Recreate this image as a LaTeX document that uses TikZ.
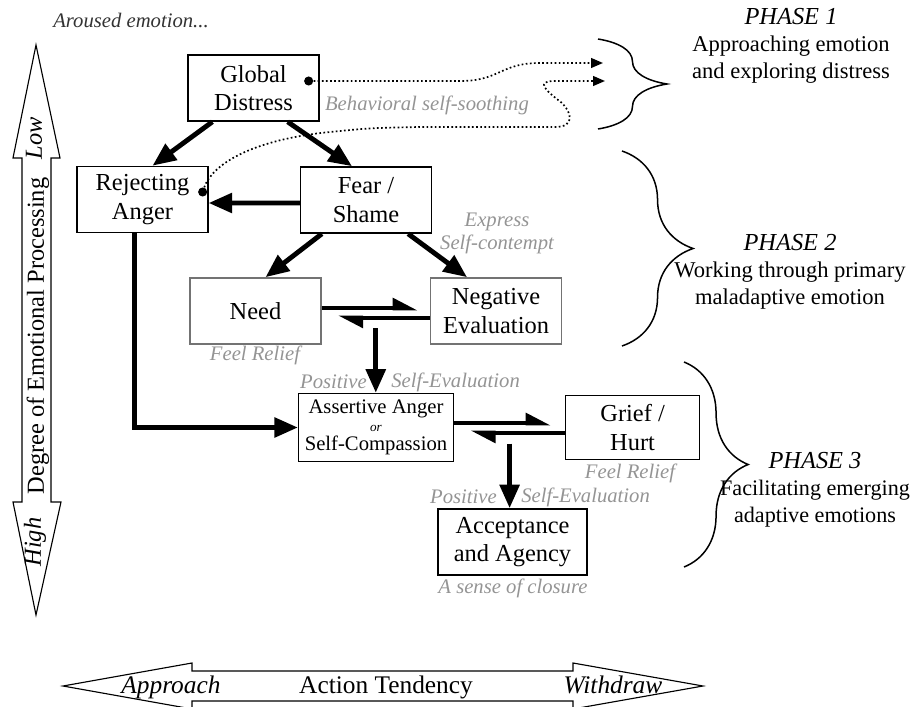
\documentclass[tikz,border=0pt]{standalone}
\usepackage{fontspec}
\setmainfont{Liberation Serif}
\usetikzlibrary{arrows.meta,calc,positioning,decorations.pathreplacing}
\definecolor{notec}{gray}{0.58}
\definecolor{edgec}{gray}{0.45}

\begin{document}
\begin{tikzpicture}[x=0.0187cm, y=-0.0187cm, node distance=45mm,
  box/.style={rectangle, draw, line width=0.7pt, minimum width=2.45cm, minimum height=1.24cm, align=center, font=\fontsize{13}{15}\selectfont},
  flow/.style={line width=2.6pt, -{Triangle[length=0.44cm, width=0.36cm]}},
  harp/.style={line width=2.6pt, -{Triangle[harpoon, length=0.38cm, width=0.36cm]}},
  soothe/.style={line width=0.9pt, dash pattern=on 0.9pt off 1.3pt, -{Triangle[length=0.22cm, width=0.18cm]}},
  dot/.style={circle, fill, inner sep=0pt, minimum size=0.17cm},
  note/.style={text=notec, font=\fontsize{11}{13}\selectfont\itshape, inner sep=1pt},
  phase/.style={align=center, font=\fontsize{12}{14.3}\selectfont},
  axis/.style={draw, line width=0.6pt, fill=white},
  phasebrace/.style={decorate, line width=0.8pt, decoration={brace, amplitude=#1}}]

    \useasboundingbox (0,0) rectangle (913,707);

    % axes
    \draw[axis] (36,45) -- (60,158) -- (51,158) -- (51,502) -- (61,502) -- (36,615) -- (13,502) -- (22,502) -- (22,158) -- (13,158) -- cycle;
    \draw[axis] (63,686) -- (192,663) -- (192,671) -- (573,671) -- (573,663) -- (703,686) -- (573,709) -- (573,701) -- (192,701) -- (192,709) -- cycle;
    \node[rotate=90, font=\fontsize{13}{15}\selectfont\itshape] (low) at (34,138) {Low};
    \node[rotate=90, font=\fontsize{13}{15}\selectfont] (degree) at (38,336) {Degree of Emotional Processing};
    \node[rotate=90, font=\fontsize{13}{15}\selectfont\itshape] (high) at (35,542) {High};
    \node[anchor=base, font=\fontsize{13.5}{15}\selectfont\itshape] (approach) at (171,693) {Approach};
    \node[anchor=base, font=\fontsize{13.5}{15}\selectfont] (tendency) at (386,693) {Action Tendency};
    \node[anchor=base, font=\fontsize{13.5}{15}\selectfont\itshape] (withdraw) at (613,693) {Withdraw};
    \node[font=\fontsize{11}{13}\selectfont\itshape, text=black!80] (aroused) at (131,20) {Aroused emotion...};

    % boxes
    \node[box] (global) at (253.5,88) {Global\\Distress};
    \node[box] (reject) at (142.5,199.5) {Rejecting\\Anger};
    \node[box] (fear) at (366,200) {Fear /\\Shame};
    \node[box, draw=edgec] (need) at (255.5,311) {Need};
    \node[box, draw=edgec, right of=need] (neg) {Negative\\Evaluation};
    \node[box, minimum width=2.8cm, font=\fontsize{11}{11.5}\selectfont] (assert) at (376,427.5) {Assertive Anger\\[-2pt]{\fontsize{7}{8}\selectfont\itshape or}\\[-1pt]Self-Compassion};
    \node[box, minimum width=2.5cm, minimum height=1.2cm, right of=assert, node distance=48mm] (grief) {Grief /\\Hurt};
    \node[box, minimum width=2.79cm] (accept) at (512.5,542) {Acceptance\\and Agency};

    \node[dot] (gdot) at ($(global.east)+(-11,-7)$) {};
    \node[dot] (rdot) at ($(reject.east)+(-6,-7.5)$) {};
    \coordinate (ph1a) at (603,63);
    \coordinate (ph1b) at (605,81);
    \coordinate (pair1) at ($(need.east)!0.5!(neg.west)$);
    \coordinate (pair2) at ($(assert.east)!0.5!(grief.west)$);

    % notes
    \node[note] (behave) at (427,105) {Behavioral self-soothing};
    \node[note, align=center, font=\fontsize{11}{12.3}\selectfont\itshape] (express) at (497,233) {Express\\Self-contempt};
    \node[note] (relief1) at (255,355) {Feel Relief};
    \node[note, anchor=east] (pos1a) at (369,382) {Positive};
    \node[note, anchor=west] (pos1b) at (389,382) {Self-Evaluation};
    \node[note] (relief2) at (630,473) {Feel Relief};
    \node[note, anchor=east] (pos2a) at (499,497) {Positive};
    \node[note, anchor=west] (pos2b) at (519,497) {Self-Evaluation};
    \node[note] (closure) at (513,588) {A sense of closure};

    % arrows
    \draw[flow] ($(global.south west)+(25,0)$) -- ($(reject.north)+(10,0)$);
    \draw[flow] ($(global.south east)+(-32,0)$) -- ($(fear.north)+(-14,0)$);
    \draw[flow] ($(fear.west)+(0,3)$) -- ($(reject.east)+(0,3.5)$);
    \draw[flow] ($(fear.south west)+(22,0)$) -- ($(need.north)+(10,0)$);
    \draw[flow] ($(fear.south east)+(-24,0)$) -- ($(neg.north)+(-29,0)$);
    \draw[harp, shorten >=0.22cm] ($(need.east)+(0,-3)$) -- ($(neg.west)+(0,-3)$);
    \draw[harp, shorten >=0.3cm] ($(neg.west)+(0,7)$) -- ($(need.east)+(0,7)$);
    \draw[flow] ($(pair1)+(0,17)$) -- (pair1 |- assert.north);
    \draw[flow] ($(reject.south)+(-8,0)$) |- (assert.west);
    \draw[harp, shorten >=0.26cm] ($(assert.east)+(0,-4.5)$) -- ($(grief.west)+(0,-4.5)$);
    \draw[harp, shorten >=0.3cm] ($(grief.west)+(0,5.5)$) -- ($(assert.east)+(0,5.5)$);
    \draw[flow] ($(pair2)+(0,16)$) -- (pair2 |- accept.north);

    % self-soothing
    \draw[soothe] (gdot) -- (460,81) .. controls (500,81) and (500,63) .. (540,63) -- (ph1a);
    \draw[soothe] (rdot) .. controls (212,165) and (250,140) .. (330,132) .. controls (370,128) .. (420,127) -- (555,127) .. controls (575,127) and (572,113) .. (562,103) .. controls (545,90) and (535,81) .. (555,81) -- (ph1b);

    % phases
    \draw[phasebrace=1.29cm] (598,39) -- (598,129);
    \draw[phasebrace=1.33cm] (622,151) -- (622,346);
    \draw[phasebrace=1.2cm] (684,362) -- (684,567);
    \node[phase] (phase1) at (791,46) {\fontsize{13}{14.3}\selectfont\itshape PHASE 1\\Approaching emotion\\and exploring distress};
    \node[phase] (phase2) at (790,272) {\fontsize{13}{14.3}\selectfont\itshape PHASE 2\\Working through primary\\maladaptive emotion};
    \node[phase, font=\fontsize{11.8}{14.3}\selectfont] (phase3) at (815,490) {\fontsize{13}{14.3}\selectfont\itshape PHASE 3\\Facilitating emerging\\adaptive emotions};

  \end{tikzpicture}
\end{document}
